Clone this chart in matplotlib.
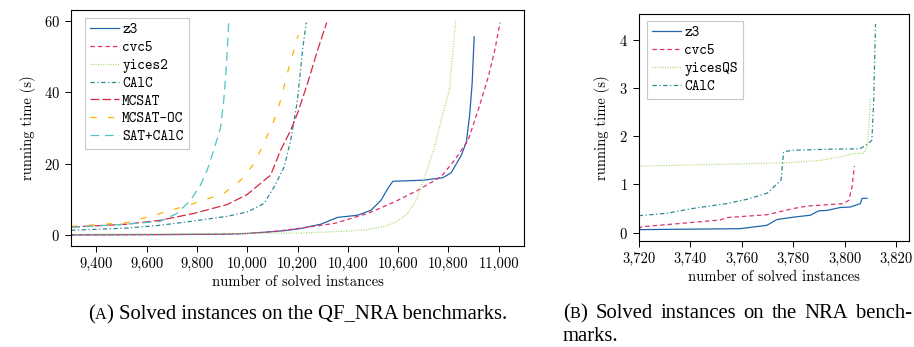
import numpy as np
import matplotlib
matplotlib.use("Agg")
import matplotlib.pyplot as plt
from matplotlib.ticker import FuncFormatter

plt.rcParams['axes.formatter.use_mathtext'] = True

# ---- left panel: QF_NRA ----
z3_x = [9300, 9500, 9700, 9900, 10000, 10100, 10150, 10213, 10293, 10359, 10439, 10492, 10532,
        10559, 10579, 10700, 10778, 10811, 10851, 10871, 10884, 10894, 10902]
z3_y = [0.1, 0.15, 0.2, 0.3, 0.5, 1.0, 1.3, 1.9, 3.1, 5.0, 5.6, 7.0, 9.8,
        13.1, 15.1, 15.4, 16.1, 17.5, 22.4, 26.1, 33.6, 42.5, 55.5]
cvc5_x = [9300, 9500, 9700, 9900, 10000, 10100, 10213, 10346, 10479, 10585, 10678, 10771,
          10824, 10878, 10918, 10958, 10984, 11005]
cvc5_y = [0.1, 0.15, 0.2, 0.3, 0.5, 1.0, 2.0, 3.3, 6.1, 9.3, 12.6, 16.4,
          21.0, 26.6, 35.0, 44.3, 51.8, 59.5]
yices2_x = [9300, 9600, 9900, 10213, 10412, 10479, 10545, 10592, 10638, 10672, 10705, 10745,
            10778, 10804, 10818, 10828]
yices2_y = [0.3, 0.4, 0.5, 0.6, 1.2, 1.6, 2.5, 3.7, 6.1, 9.8, 16.3, 24.7,
            34.1, 40.6, 51.8, 60.0]
calc_x = [9300, 9522, 9655, 9788, 9921, 10000, 10067, 10107, 10147, 10173, 10200, 10220, 10235]
calc_y = [1.4, 2.0, 2.8, 4.0, 5.3, 6.5, 8.9, 13.5, 19.1, 26.6, 37.8, 51.8, 59.5]
mcsat_x = [9300, 9522, 9655, 9788, 9921, 10000, 10053, 10093, 10133, 10173, 10200, 10240,
           10280, 10316]
mcsat_y = [2.3, 3.1, 4.2, 6.1, 8.6, 11.4, 14.5, 16.8, 23.8, 29.4, 34.1, 42.5, 51.8, 59.5]
mcsatoc_x = [9300, 9522, 9655, 9788, 9907, 9974, 10027, 10067, 10107, 10133, 10166, 10203]
mcsatoc_y = [2.5, 3.5, 6.1, 8.9, 11.7, 15.4, 20.0, 25.7, 32.2, 37.8, 47.0, 56.0]
satcalc_x = [9300, 9500, 9655, 9721, 9775, 9814, 9841, 9867, 9894, 9907, 9917, 9927]
satcalc_y = [2.2, 3.0, 3.9, 6.1, 9.8, 14.0, 18.2, 23.8, 30.0, 37.8, 47.0, 60.0]

# ---- right panel: NRA ----
nz3_x = [3720, 3759.4, 3769.8, 3773.7, 3780.2, 3786.7, 3789.9, 3793.2, 3798.3, 3802.2,
         3806.1, 3806.8, 3808.7]
nz3_y = [0.06, 0.08, 0.15, 0.27, 0.32, 0.36, 0.45, 0.46, 0.52, 0.53, 0.60, 0.71, 0.71]
ncvc5_x = [3720, 3721, 3738.7, 3751.6, 3754.2, 3769.8, 3780.2, 3785.4, 3799.6, 3801.6,
           3802.9, 3803.8]
ncvc5_y = [0.07, 0.12, 0.2, 0.26, 0.31, 0.37, 0.5, 0.55, 0.6, 0.67, 0.95, 1.38]
nyqs_x = [3720, 3754, 3778.5, 3791, 3799.6, 3803.5, 3807.5, 3808.7, 3809.4, 3810]
nyqs_y = [1.38, 1.42, 1.45, 1.5, 1.59, 1.64, 1.65, 1.78, 2.16, 2.77]
ncalc_x = [3720, 3731, 3741, 3754, 3762, 3770, 3775.3, 3776.3, 3780, 3793, 3806, 3808.7,
           3810.6, 3811.3, 3812]
ncalc_y = [0.35, 0.4, 0.5, 0.6, 0.69, 0.82, 1.09, 1.68, 1.71, 1.73, 1.74, 1.83,
           1.92, 2.75, 4.33]

c_z3 = '#2166ac'
c_cvc5 = '#e0306f'
c_yices = '#a6d96a'
c_calc = '#2a8a92'
c_mcsat = '#d7263d'
c_mcsatoc = '#ffb000'
c_satcalc = '#4fc3c8'

W, H = 914, 347
lw = 0.9
fig = plt.figure(figsize=(W / 100, H / 100), dpi=100)
ax1 = fig.add_axes([0.0777, 0.2911, 0.4956, 0.6801])
ax2 = fig.add_axes([0.6988, 0.3063, 0.2957, 0.6533])

ax1.plot(z3_x, z3_y, color=c_z3, lw=lw, label='z3')
ax1.plot(cvc5_x, cvc5_y, color=c_cvc5, lw=lw, dashes=(3.5, 2.5), label='cvc5')
ax1.plot(yices2_x, yices2_y, color=c_yices, lw=lw, dashes=(0.8, 1.2), label='yices2')
ax1.plot(calc_x, calc_y, color=c_calc, lw=lw, dashes=(3.5, 2, 1, 2), label='CAlC')
ax1.plot(mcsat_x, mcsat_y, color=c_mcsat, lw=lw, dashes=(7, 2.5), label='MCSAT')
ax1.plot(mcsatoc_x, mcsatoc_y, color=c_mcsatoc, lw=lw, dashes=(5, 9), label='MCSAT-OC')
ax1.plot(satcalc_x, satcalc_y, color=c_satcalc, lw=lw, dashes=(7, 4.5), label='SAT+CAlC')
ax1.set_xlim(9300, 11100)
ax1.set_ylim(-3, 63)
ax1.set_xticks([9400, 9600, 9800, 10000, 10200, 10400, 10600, 10800, 11000])
ax1.set_yticks([0, 20, 40, 60])

ax2.plot(nz3_x, nz3_y, color=c_z3, lw=lw, label='z3')
ax2.plot(ncvc5_x, ncvc5_y, color=c_cvc5, lw=lw, dashes=(3.5, 2.5), label='cvc5')
ax2.plot(nyqs_x, nyqs_y, color=c_yices, lw=lw, dashes=(0.8, 1.2), label='yicesQS')
ax2.plot(ncalc_x, ncalc_y, color=c_calc, lw=lw, dashes=(3.5, 2, 1, 2), label='CAlC')
ax2.set_xlim(3720, 3825)
ax2.set_ylim(-0.17, 4.54)
ax2.set_xticks([3720, 3740, 3760, 3780, 3800, 3820])
ax2.set_yticks([0, 1, 2, 3, 4])

fmt = FuncFormatter(lambda v, p: '{:,.0f}'.format(v))
for ax, anchor in [(ax1, (0.031, 0.967)), (ax2, (0.031, 0.970))]:
    ax.xaxis.set_major_formatter(fmt)
    ax.tick_params(direction='out', length=4.5, width=0.7, top=False, right=False)
    for lab in ax.get_xticklabels() + ax.get_yticklabels():
        lab.set_fontfamily('cmr10')
        lab.set_fontsize(10.5)
    for s in ax.spines.values():
        s.set_linewidth(0.8)
    ax.set_xlabel('number of solved instances', fontfamily='cmr10', fontsize=10.5, labelpad=3)
    ax.set_ylabel('running time (s)', fontfamily='cmr10', fontsize=10.5, labelpad=6)
    leg = ax.legend(loc='upper left', bbox_to_anchor=anchor, borderaxespad=0,
                    prop={'family': 'cmtt10', 'size': 10.5}, fancybox=False,
                    framealpha=1, edgecolor='#c8c8c8', handlelength=2.0,
                    handletextpad=0.2, labelspacing=0.25, borderpad=0.35)
    leg.get_frame().set_linewidth(0.8)

# ---- captions (small-caps letter, justified first line of B) ----
cap_size = 14.9
sc_size = cap_size * 0.78
renderer = fig.canvas.get_renderer()


def width_of(s, size):
    t = fig.text(0, 0, s, fontsize=size, fontfamily='Liberation Serif')
    w = t.get_window_extent(renderer).width
    t.remove()
    return w


def put_runs(runs, x, base):
    # runs: list of (string, size); x, base in pixels
    for s, size in runs:
        fig.text(x / W, (H - base) / H, s, fontsize=size, fontfamily='Liberation Serif',
                 ha='left', va='baseline')
        x += width_of(s, size)
    return x


space = width_of('a a', cap_size) - width_of('aa', cap_size)

cap_a = [('(', cap_size), ('A', sc_size), (')', cap_size)]
rest_a = 'Solved instances on the QF_NRA benchmarks.'
total = sum(width_of(s, z) for s, z in cap_a) + space + width_of(rest_a, cap_size)
xa = 297.5 - total / 2
xa = put_runs(cap_a, xa, 319)
put_runs([(rest_a, cap_size)], xa + space, 319)

words_b = ['Solved', 'instances', 'on', 'the', 'NRA', 'bench-']
cap_b = [('(', cap_size), ('B', sc_size), (')', cap_size)]
left_b, right_b = 563, 912
w_first = sum(width_of(s, z) for s, z in cap_b)
w_words = [width_of(w, cap_size) for w in words_b]
gap = (right_b - left_b - w_first - sum(w_words)) / len(words_b)
xb = put_runs(cap_b, left_b, 318)
for w, ww in zip(words_b, w_words):
    xb += gap
    put_runs([(w, cap_size)], xb, 318)
    xb += ww
put_runs([('marks.', cap_size)], left_b, 341)

fig.savefig('out.png', dpi=100)
